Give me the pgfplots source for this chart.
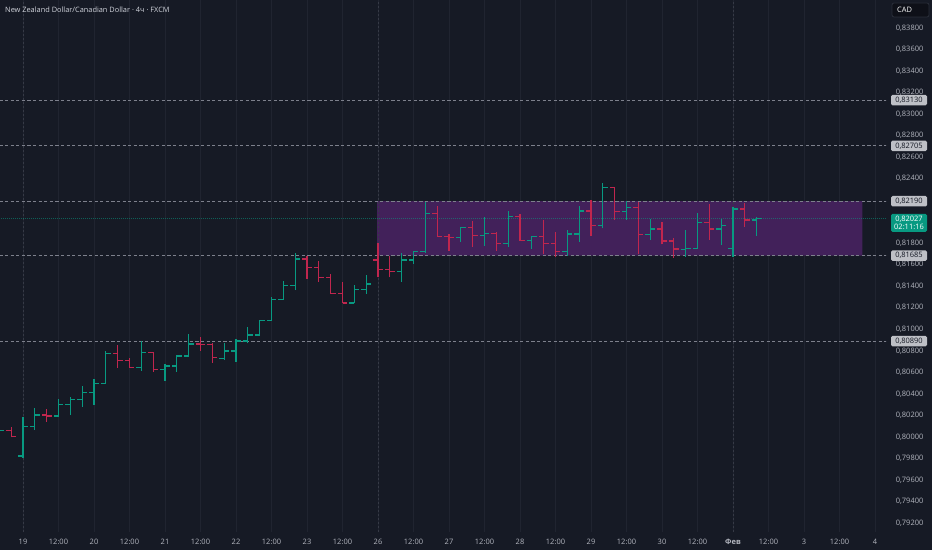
\documentclass[border=0pt]{standalone}
\usepackage{fontspec}
\setmainfont{Open Sans}
\usepackage{pgfplots}
\usepackage{pgfplotstable}
\pgfplotsset{compat=1.18}
\definecolor{bg}{RGB}{22,26,37}
\definecolor{gridc}{RGB}{32,36,48}
\definecolor{sepc}{RGB}{54,58,70}
\definecolor{levelc}{RGB}{125,128,140}
\definecolor{rectc}{RGB}{66,33,90}
\definecolor{upc}{RGB}{8,153,129}
\definecolor{dnc}{RGB}{192,38,78}
\definecolor{tickc}{RGB}{178,181,190}
\definecolor{boxc}{RGB}{190,192,198}
\definecolor{boxtext}{RGB}{19,23,34}
\definecolor{titlec}{RGB}{209,212,220}
\definecolor{cadbg}{RGB}{14,16,24}
\definecolor{cadborder}{RGB}{42,46,57}

\pgfplotstableread{
i o h l c
-2 0.80036 0.80092 0.80017 0.80057
0 0.79822 0.80188 0.79804 0.80095
1 0.80095 0.80266 0.80064 0.80203
3 0.80194 0.80352 0.80188 0.80303
4 0.80303 0.80368 0.80203 0.80349
5 0.80349 0.80473 0.80280 0.80414
6 0.80414 0.80535 0.80296 0.80498
7 0.80498 0.80801 0.80491 0.80777
10 0.80647 0.80894 0.80615 0.80786
12 0.80628 0.80677 0.80519 0.80659
13 0.80659 0.80761 0.80606 0.80752
14 0.80752 0.80956 0.80745 0.80863
17 0.80730 0.80870 0.80714 0.80798
18 0.80798 0.80907 0.80699 0.80891
19 0.80891 0.81018 0.80868 0.80947
20 0.80947 0.81086 0.80942 0.81080
21 0.81080 0.81297 0.81077 0.81275
22 0.81275 0.81452 0.81272 0.81409
23 0.81409 0.81706 0.81365 0.81653
28 0.81244 0.81412 0.81241 0.81372
29 0.81372 0.81504 0.81328 0.81421
32 0.81535 0.81706 0.81442 0.81644
33 0.81644 0.81730 0.81607 0.81721
34 0.81721 0.82186 0.81712 0.82078
37 0.81856 0.81953 0.81814 0.81944
39 0.81870 0.82046 0.81777 0.81892
41 0.81799 0.82099 0.81768 0.82046
43 0.81827 0.81867 0.81746 0.81860
46 0.81721 0.81923 0.81684 0.81885
47 0.81885 0.82149 0.81814 0.82099
49 0.81963 0.82357 0.81938 0.82320
51 0.82093 0.82192 0.82016 0.82134
53 0.81883 0.82025 0.81830 0.81932
56 0.81740 0.81923 0.81675 0.81753
57 0.81753 0.82078 0.81746 0.81994
59 0.81932 0.82025 0.81783 0.81963
60 0.81753 0.82139 0.81675 0.82118
62 0.82016 0.82046 0.81870 0.82027
}\upbars

\pgfplotstableread{
i o h l c
-1 0.80057 0.80095 0.79996 0.80002
2 0.80203 0.80256 0.80141 0.80194
8 0.80777 0.80854 0.80643 0.80708
9 0.80708 0.80736 0.80643 0.80647
11 0.80786 0.80792 0.80606 0.80628
15 0.80863 0.80925 0.80801 0.80860
16 0.80860 0.80875 0.80689 0.80736
24 0.81653 0.81681 0.81465 0.81572
25 0.81572 0.81637 0.81442 0.81483
26 0.81483 0.81514 0.81328 0.81331
27 0.81331 0.81442 0.81241 0.81244
30 0.81644 0.81799 0.81483 0.81557
31 0.81557 0.81681 0.81483 0.81535
35 0.82078 0.82146 0.81858 0.81860
36 0.81860 0.81885 0.81730 0.81856
38 0.81944 0.82006 0.81765 0.81870
40 0.81892 0.81901 0.81728 0.81799
42 0.82046 0.82069 0.81820 0.81827
44 0.81860 0.82016 0.81697 0.81799
45 0.81799 0.81901 0.81675 0.81721
48 0.82099 0.82201 0.81870 0.81963
50 0.82320 0.82325 0.82016 0.82093
52 0.82134 0.82180 0.81697 0.81883
54 0.81932 0.82000 0.81790 0.81820
55 0.81820 0.81846 0.81665 0.81746
58 0.81994 0.82162 0.81830 0.81932
61 0.82118 0.82171 0.81953 0.82016
}\downbars

\begin{document}
\begin{tikzpicture}[x=1bp,y=1bp]
\useasboundingbox (0,0) rectangle (932,-550);
\fill[bg] (0,0) rectangle (932,-550);
\begin{axis}[
  at={(0,0)}, anchor=north west,
  scale only axis, width=886bp, height=532bp,
  xmin=-1.9437, xmax=72.93,
  ymin=0.79116, ymax=0.840602,
  axis line style={draw=none},
  major tick length=0pt,
  tick style={draw=none},
  xmajorgrids=true,
  grid style={color=gridc, line width=0.8bp},
  xtick={0,3,...,72},
  xticklabels={19,12:00,20,12:00,21,12:00,22,12:00,23,12:00,26,12:00,27,12:00,28,12:00,29,12:00,30,12:00,\textbf{Фев},12:00,3,12:00,4},
  xticklabel style={font=\fontsize{7.5}{9}\selectfont, text=tickc, anchor=center, yshift=-10bp, inner sep=0pt},
  ytick={0.792,0.794,0.796,0.798,0.800,0.802,0.804,0.806,0.808,0.810,0.812,0.814,0.816,0.818,0.822,0.824,0.826,0.828,0.830,0.832,0.834,0.836,0.838},
  yticklabels={{0,79200},{0,79400},{0,79600},{0,79800},{0,80000},{0,80200},{0,80400},{0,80600},{0,80800},{0,81000},{0,81200},{0,81400},{0,81600},{0,81800},{0,82200},{0,82400},{0,82600},{0,82800},{0,83000},{0,83200},{0,83400},{0,83600},{0,83800}},
  yticklabel pos=right,
  yticklabel style={font=\fontsize{7.5}{9}\selectfont, text=tickc, anchor=east, xshift=37.5bp, inner sep=0pt},
]
% range rectangle
\addplot[fill=rectc, draw=none] coordinates {(29.92,0.81685) (70.93,0.81685) (70.93,0.8219) (29.92,0.8219) (29.92,0.81685)};
% week separators
\addplot[sepc, line width=0.8bp, dash pattern=on 2bp off 2bp] coordinates {(0,0.79) (0,0.842)};
\addplot[sepc, line width=0.8bp, dash pattern=on 2bp off 2bp] coordinates {(30,0.79) (30,0.842)};
\addplot[sepc, line width=0.8bp, dash pattern=on 2bp off 2bp] coordinates {(60,0.79) (60,0.842)};
% level lines
\addplot[levelc, line width=1bp, dash pattern=on 3.3bp off 2.3bp] coordinates {(-2,0.83130) (73,0.83130)};
\addplot[levelc, line width=1bp, dash pattern=on 3.3bp off 2.3bp] coordinates {(-2,0.82705) (73,0.82705)};
\addplot[levelc, line width=1bp, dash pattern=on 3.3bp off 2.3bp] coordinates {(-2,0.82190) (73,0.82190)};
\addplot[levelc, line width=1bp, dash pattern=on 3.3bp off 2.3bp] coordinates {(-2,0.81685) (73,0.81685)};
\addplot[levelc, line width=1bp, dash pattern=on 3.3bp off 2.3bp] coordinates {(-2,0.80890) (73,0.80890)};
% current price line
\addplot[upc, opacity=0.55, line width=0.7bp, dash pattern=on 1bp off 1bp] coordinates {(-2,0.82027) (73,0.82027)};
% OHLC bars: high-low as error bars, open (left) and close (right) ticks as quivers
\addplot[draw=none, mark=none, error bars/.cd, y dir=plus, y explicit, error mark=none, error bar style={draw=upc, line width=1.2bp, solid}] table[x=i, y=l, y error plus expr=\thisrow{h}-\thisrow{l}] {\upbars};
\addplot[upc, line width=1.2bp, quiver={u=-0.42, v=0}] table[x=i, y=o] {\upbars};
\addplot[upc, line width=1.2bp, quiver={u=0.42, v=0}] table[x=i, y=c] {\upbars};
\addplot[draw=none, mark=none, error bars/.cd, y dir=plus, y explicit, error mark=none, error bar style={draw=dnc, line width=1.2bp, solid}] table[x=i, y=l, y error plus expr=\thisrow{h}-\thisrow{l}] {\downbars};
\addplot[dnc, line width=1.2bp, quiver={u=-0.42, v=0}] table[x=i, y=o] {\downbars};
\addplot[dnc, line width=1.2bp, quiver={u=0.42, v=0}] table[x=i, y=c] {\downbars};
\coordinate (p1) at (axis cs:72.93,0.83130);
\coordinate (p2) at (axis cs:72.93,0.82705);
\coordinate (p3) at (axis cs:72.93,0.82190);
\coordinate (p4) at (axis cs:72.93,0.81685);
\coordinate (p5) at (axis cs:72.93,0.80890);
\coordinate (pc) at (axis cs:72.93,0.82027);
\end{axis}
\tikzset{lbox/.style={fill=boxc, text=boxtext, rounded corners=1.5bp, minimum width=36bp, minimum height=10.5bp, inner sep=0pt, font=\fontsize{7.5}{8}\selectfont}}
\node[lbox] at ([xshift=23bp]p1) {0,83130};
\node[lbox] at ([xshift=23bp]p2) {0,82705};
\node[lbox] at ([xshift=23bp]p3) {0,82190};
\node[lbox] at ([xshift=23bp]p4) {0,81685};
\node[lbox] at ([xshift=23bp]p5) {0,80890};
\node[fill=upc, text=white, rounded corners=1.5bp, minimum width=36bp, minimum height=18bp, inner sep=0pt, align=center, font=\fontsize{7.5}{8.6}\selectfont] at ([xshift=23bp,yshift=-4.2bp]pc) {0,82027\\02:11:16};
\draw[fill=cadbg, draw=cadborder, rounded corners=2bp, line width=0.8bp] (892,-3) rectangle (929,-17);
\node[anchor=west, inner sep=0pt, text=white, font=\fontsize{7.5}{9}\selectfont] at (897,-10) {CAD};
\node[anchor=west, inner sep=0pt, text=titlec, font=\fontsize{7.4}{9}\selectfont] at (5,-10) {New Zealand Dollar/Canadian Dollar · 4ч · FXCM};
\end{tikzpicture}
\end{document}
